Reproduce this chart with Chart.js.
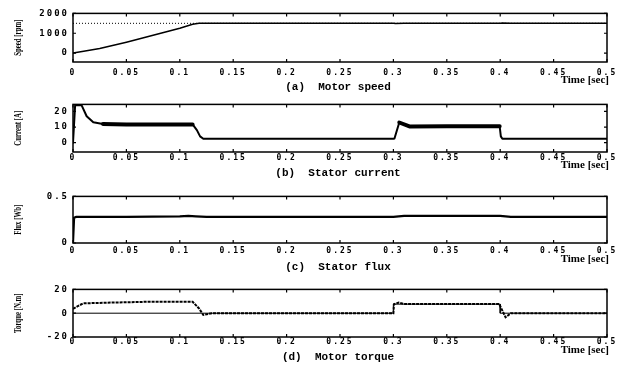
<!DOCTYPE html>
<html><head><meta charset="utf-8">
<script src="https://cdn.jsdelivr.net/npm/chart.js@4"></script>
<style>
html,body{margin:0;padding:0;background:#fff;width:622px;height:365px;overflow:hidden}
.p{position:absolute;left:0;width:622px}
</style></head><body>
<div class="p" id="w0"><canvas id="c0"></canvas></div>
<div class="p" id="w1"><canvas id="c1"></canvas></div>
<div class="p" id="w2"><canvas id="c2"></canvas></div>
<div class="p" id="w3"><canvas id="c3"></canvas></div>
<script>
// ---- data (time in sec) ----
const timeTicks = [0,0.05,0.1,0.15,0.2,0.25,0.3,0.35,0.4,0.45,0.5];

const speedT   = [0,0.01,0.025,0.05,0.075,0.1,0.112,0.118,0.3,0.302,0.31,0.4,0.402,0.41,0.5];
const speedV   = [0,90,230,550,900,1250,1450,1500,1500,1490,1500,1500,1510,1500,1500];
const speedRefT = [0,0.5];
const speedRefV = [1500,1500];
const speedTicks = [0,1000,2000];

const currT = [0,0.002,0.008,0.0128,0.019,0.028,0.05,0.08,0.112,0.116,0.119,0.122,0.2,0.3,0.301,0.3055,0.315,0.35,0.3995,0.4006,0.402,0.5];
const currV = [0,24,24,16.9,13,12,11.7,11.7,11.7,8,4,2.5,2.5,2.5,2.7,12.9,10.4,10.5,10.5,4,2.5,2.5];
const currTicks = [0,10,20];
// intervals with heavy PWM ripple (drawn as a wider band)
const currRippleT = [[0.026,0.113],[0.305,0.4]];

const fluxT = [0,0.001,0.003,0.05,0.1,0.108,0.115,0.125,0.3,0.31,0.4,0.41,0.5];
const fluxV = [0,0.27,0.28,0.28,0.285,0.29,0.285,0.28,0.28,0.29,0.29,0.28,0.28];
const fluxTicks = [0,0.5];

const torqT = [0,0.0095,0.04,0.07,0.112,0.118,0.122,0.13,0.3,0.3005,0.305,0.31,0.35,0.399,0.405,0.41,0.5];
const torqV = [3.7,8.3,9,9.6,9.6,4,-1.5,0,0,7.6,8.9,7.8,7.8,7.8,-3.4,0,0];
const loadT = [0,0.3,0.3,0.4,0.4,0.5];
const loadV = [0,0,7.6,7.6,0,0];
const torqTicks = [-20,0,20];

function pts(t,v){ return t.map((x,i)=>({x:x,y:v[i]})); }

const boxPlugin = {
  id:'box',
  beforeDraw(chart){ chart.ctx.letterSpacing = '2px'; },
  beforeDatasetsDraw(chart){ chart.ctx.letterSpacing = '0px'; },
  afterDraw(chart){
    const o = chart.options.plugins.box;
    const ctx = chart.ctx, a = chart.chartArea;
    const xs = chart.scales.x, ys = chart.scales.y;
    ctx.save();
    ctx.letterSpacing = '0px';
    ctx.strokeStyle = '#000';
    ctx.lineWidth = 1.5;
    ctx.strokeRect(a.left, a.top, a.right-a.left, a.bottom-a.top);
    ctx.lineWidth = 1.2;
    ctx.beginPath();
    timeTicks.forEach(t=>{
      const x = xs.getPixelForValue(t);
      ctx.moveTo(x,a.top); ctx.lineTo(x,a.top+3);
      ctx.moveTo(x,a.bottom); ctx.lineTo(x,a.bottom-3);
    });
    o.yt.forEach(v=>{
      const y = ys.getPixelForValue(v);
      ctx.moveTo(a.left,y); ctx.lineTo(a.left+3,y);
      ctx.moveTo(a.right,y); ctx.lineTo(a.right-3,y);
    });
    ctx.stroke();
    // y label (condensed serif)
    ctx.fillStyle = '#000';
    ctx.save();
    ctx.translate(18,(a.top+a.bottom)/2 + o.ylOff);
    ctx.rotate(-Math.PI/2);
    ctx.scale(0.62,1);
    ctx.font = 'bold 11px "Liberation Serif", serif';
    ctx.textAlign = 'center'; ctx.textBaseline = 'middle';
    ctx.fillText(o.ylabel,0,0);
    ctx.restore();
    // Time [sec]
    ctx.font = 'bold 11px "Liberation Serif", serif';
    ctx.textAlign = 'right'; ctx.textBaseline = 'middle';
    ctx.fillText('Time [sec]', 609, a.bottom + o.timeOff);
    // caption
    ctx.font = 'bold 11px "Liberation Mono", monospace';
    ctx.textAlign = 'center';
    ctx.fillText(o.caption, 338, a.bottom + o.capOff);
    ctx.restore();
  }
};

function makePanel(idx, cfg){
  const padTop = 8, below = 32;
  const h = (cfg.bottom - cfg.top) + padTop + below;
  const w = document.getElementById('w'+idx);
  w.style.top = (cfg.top - padTop) + 'px';
  w.style.height = h + 'px';
  new Chart(document.getElementById('c'+idx), {
    type:'line',
    data:{ datasets: cfg.datasets },
    options:{
      responsive:true, maintainAspectRatio:false, animation:false,
      layout:{ padding:{ top:padTop, left:0, right:15, bottom: below-14 } },
      parsing:false,
      plugins:{ legend:{display:false}, tooltip:{enabled:false},
        box:{ yt:cfg.yt, ylabel:cfg.ylabel, caption:cfg.caption, timeOff:cfg.timeOff, capOff:cfg.capOff, ylOff:cfg.ylOff||0 } },
      elements:{ point:{ radius:0 }, line:{ tension:0 } },
      scales:{
        x:{ type:'linear', min:0, max:0.5,
          grid:{ display:false, drawTicks:false }, border:{ display:false },
          afterFit(s){ s.height = 14; },
          afterBuildTicks(s){ s.ticks = timeTicks.map(v=>({value:v})); },
          ticks:{ padding: cfg.tickPad, autoSkip:false, maxRotation:0, color:'#000',
            font:{ family:'"DejaVu Sans Mono", monospace', size:8, weight:'bold' },
            callback:(v)=> String(Number(v.toFixed(2))) } },
        y:{ type:'linear', min:cfg.ymin, max:cfg.ymax,
          grid:{ display:false, drawTicks:false }, border:{ display:false },
          afterFit(s){ s.width = 73; },
          afterBuildTicks(s){ s.ticks = cfg.yt.map(v=>({value:v})); },
          ticks:{ padding:4, color:'#000',
            font:{ family:'"DejaVu Sans Mono", monospace', size:9, weight:'bold' },
            callback:(v)=> String(v) } }
      }
    },
    plugins:[boxPlugin]
  });
}

function inRipple(x){ return currRippleT.some(r=>x>=r[0] && x<=r[1]); }

makePanel(0,{ top:12, bottom:62, ymin:-450, ymax:2000, yt:speedTicks,
  ylabel:'Speed [rpm]', caption:'(a)  Motor speed', tickPad:6, timeOff:18, capOff:25,
  datasets:[
    { data:pts(speedRefT,speedRefV), borderColor:'#000', borderWidth:1, borderDash:[1,2] },
    { data:pts(speedT,speedV), borderColor:'#000', borderWidth:1.6 }
  ]});
makePanel(1,{ top:103, bottom:152, ymin:-6, ymax:24.5, yt:currTicks,
  ylabel:'Current [A]', caption:'(b)  Stator current', tickPad:1, timeOff:13, capOff:21,
  datasets:[
    { data:pts(currT,currV), borderColor:'#000', borderWidth:2, borderJoinStyle:'round', borderCapStyle:'round',
      segment:{ borderWidth: c => (inRipple(c.p0.parsed.x) && inRipple(c.p1.parsed.x)) ? 4 : 2 } }
  ]});
makePanel(2,{ top:195, bottom:243, ymin:0, ymax:0.5, yt:fluxTicks,
  ylabel:'Flux [Wb]', caption:'(c)  Stator flux', tickPad:3, timeOff:16, capOff:24,
  datasets:[
    { data:pts(fluxT,fluxV), borderColor:'#000', borderWidth:2.2 }
  ]});
makePanel(3,{ top:288, bottom:337, ymin:-20, ymax:20, yt:torqTicks,
  ylabel:'Torque [N.m]', caption:'(d)  Motor torque', tickPad:0, timeOff:13, capOff:20,
  datasets:[
    { data:pts(loadT,loadV), borderColor:'#000', borderWidth:1 },
    { data:pts(torqT,torqV), borderColor:'#000', borderWidth:2, borderDash:[3,1] }
  ]});
</script>
</body></html>
